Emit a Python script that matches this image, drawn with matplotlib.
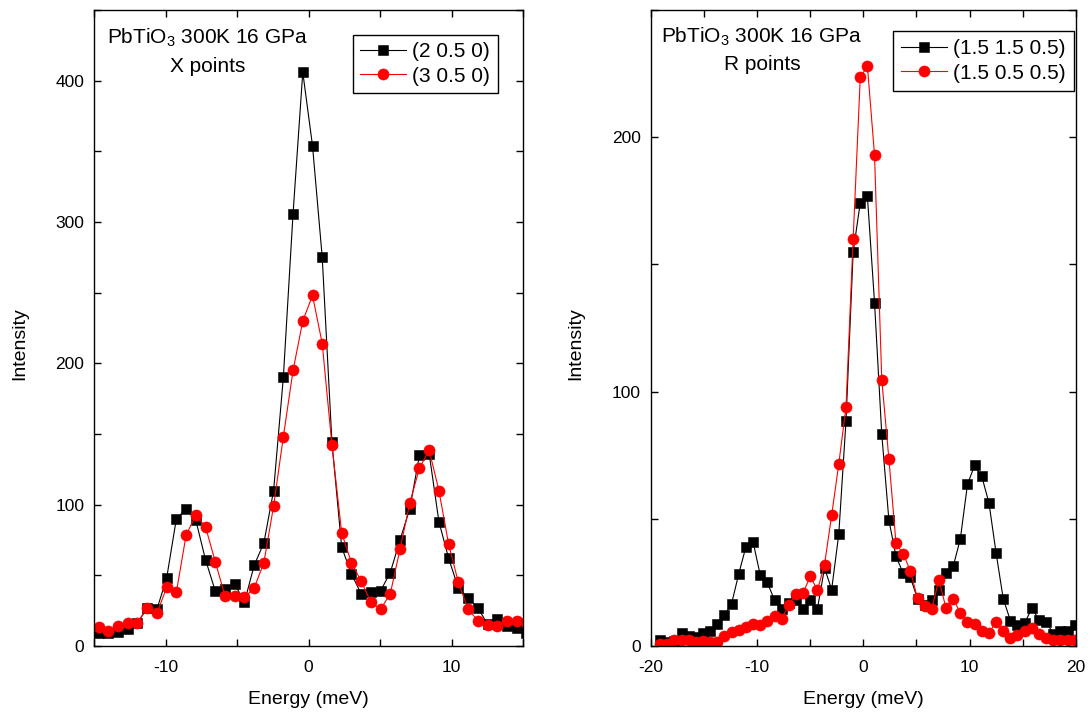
import matplotlib
matplotlib.use("Agg")
import matplotlib.pyplot as plt
from matplotlib.ticker import MultipleLocator

plt.rcParams.update({
    "font.family": ["Liberation Sans", "DejaVu Sans"],
    "mathtext.fontset": "custom",
    "mathtext.rm": "Liberation Sans",
    "mathtext.it": "Liberation Sans:italic",
    "mathtext.bf": "Liberation Sans:bold",
    "mathtext.default": "regular",
    "axes.unicode_minus": False,
})

# ---- X points (left panel) ----
energy_x = [-14.68, -14.00, -13.32, -12.64, -11.96, -11.28, -10.60, -9.92, -9.24,
            -8.56, -7.88, -7.20, -6.52, -5.84, -5.16, -4.48, -3.80, -3.12, -2.44,
            -1.76, -1.08, -0.40, 0.28, 0.96, 1.64, 2.32, 3.00, 3.68, 4.36, 5.04,
            5.72, 6.40, 7.08, 7.76, 8.44, 9.12, 9.80, 10.48, 11.16, 11.84, 12.52,
            13.20, 13.88, 14.56, 15.24]
int_2_05_0 = [9, 9.5, 10, 12, 16.5, 27, 26, 48, 90, 97,
              89, 61, 39, 40, 44, 31, 57, 73, 110, 190,
              306, 406, 354, 275, 144, 70, 51, 37, 38, 39,
              52, 75, 97, 135, 136, 88, 62, 41, 34, 27,
              15.5, 19, 14, 12.5, 9]
int_3_05_0 = [13.6, 10.8, 14.4, 16, 16.5, 26.6, 23, 41.5, 38, 78.4,
              92.6, 84.3, 59.6, 35.5, 35.5, 34.4, 41, 59, 99, 148,
              195, 230, 248, 214, 142, 80, 59, 46, 31, 26,
              37, 68.5, 101, 126, 138.5, 110, 72, 45, 26, 18,
              15, 14, 17.7, 17.7, 17]

# ---- R points (right panel) ----
energy_r = [-19.10, -18.42, -17.75, -17.08, -16.41, -15.74, -15.06, -14.39, -13.72,
            -13.05, -12.38, -11.70, -11.03, -10.36, -9.69, -9.02, -8.34, -7.67,
            -7.00, -6.33, -5.66, -4.98, -4.31, -3.64, -2.97, -2.30, -1.62, -0.95,
            -0.28, 0.39, 1.06, 1.74, 2.41, 3.08, 3.75, 4.42, 5.10, 5.77, 6.44,
            7.11, 7.78, 8.46, 9.13, 9.80, 10.47, 11.14, 11.82, 12.49, 13.16,
            13.83, 14.50, 15.18, 15.85, 16.52, 17.19, 17.86, 18.54, 19.21, 19.88]
int_15_15_05 = [2.4, 1.5, 2.0, 5.0, 4.1, 3.5, 5.0, 6.0, 8.5, 12.0,
                16.6, 28.4, 39.0, 41.0, 28.0, 25.0, 18.0, 14.6, 16.8, 18.0,
                14.6, 18.0, 14.6, 30.6, 22.2, 44.0, 88.6, 154.8, 174.3, 176.8,
                135.0, 83.3, 49.5, 35.2, 28.7, 27.1, 18.6, 16.0, 17.9, 21.9,
                28.7, 31.3, 42.2, 63.6, 71.0, 66.7, 56.2, 36.5, 18.6, 10.0,
                8.1, 9.0, 14.9, 10.3, 9.6, 4.9, 5.7, 5.8, 8.1]
int_15_05_05 = [0.9, 0.9, 2.2, 2.4, 2.2, 1.5, 1.9, 1.5, 1.5, 4.1,
                5.4, 6.1, 7.4, 8.5, 8.1, 10.0, 11.6, 10.7, 16.0, 20.6,
                20.8, 27.4, 21.9, 32.0, 51.4, 71.6, 94.0, 160.0, 223.5, 228.0,
                193.0, 104.7, 73.6, 40.3, 36.3, 29.6, 18.8, 15.7, 14.6, 26.0,
                14.9, 18.6, 12.9, 9.4, 8.7, 5.8, 5.2, 9.4, 5.8, 3.2,
                4.5, 5.8, 7.2, 4.8, 3.2, 2.4, 2.2, 2.4, 2.2]

W, H = 1091, 715
fig = plt.figure(figsize=(W / 100, H / 100), dpi=100)


def px_box(x0, x1, top, bottom):
    return [x0 / W, 1 - bottom / H, (x1 - x0) / W, (bottom - top) / H]


ax1 = fig.add_axes(px_box(94, 523, 10, 646))
ax2 = fig.add_axes(px_box(650.5, 1076, 10, 646))


def style_axes(ax, xlim, ylim, x_major, y_major):
    ax.set_xlim(*xlim)
    ax.set_ylim(*ylim)
    ax.xaxis.set_major_locator(MultipleLocator(x_major))
    ax.xaxis.set_minor_locator(MultipleLocator(x_major / 2))
    ax.yaxis.set_major_locator(MultipleLocator(y_major))
    ax.yaxis.set_minor_locator(MultipleLocator(y_major / 2))
    ax.tick_params(which="both", direction="in", top=True, right=True,
                   length=5, width=1.0, labelsize=12.5)
    ax.tick_params(axis="x", which="both", pad=10)
    ax.tick_params(axis="y", which="both", pad=7)
    for sp in ax.spines.values():
        sp.set_linewidth(1.0)
    ax.set_xlabel("Energy (meV)", fontsize=14)
    ax.xaxis.label.set_va("baseline")
    ax.xaxis.set_label_coords(0.5, (646 - 704) / 636)
    ax.set_ylabel("Intensity", fontsize=14)
    ax.yaxis.label.set_va("baseline")
    width_px = ax.get_position().width * W
    ax.yaxis.set_label_coords(-69.8 / width_px, (646 - 344) / 636)


def plot_pair(ax, e, black, red, lab_black, lab_red):
    ax.plot(e, black, color="black", lw=0.8, marker="s", ms=7.0,
            mfc="black", mec="black", mew=0.4, label=lab_black)
    ax.plot(e, red, color="red", lw=0.8, marker="o", ms=8.0,
            mfc="red", mec="red", mew=0.4, label=lab_red)


plot_pair(ax1, energy_x, int_2_05_0, int_3_05_0, "(2 0.5 0)", "(3 0.5 0)")
plot_pair(ax2, energy_r, int_15_15_05, int_15_05_05, "(1.5 1.5 0.5)", "(1.5 0.5 0.5)")

style_axes(ax1, (-15, 15), (0, 450), 10, 100)
style_axes(ax2, (-20, 20), (0, 250), 10, 100)


def add_legend(ax, left_px, top_px, right_pad):
    leg = ax.legend(loc="upper left", bbox_to_anchor=(left_px / W, 1 - top_px / H),
                    bbox_transform=fig.transFigure, borderaxespad=0,
                    frameon=True, fancybox=False, edgecolor="black", framealpha=1,
                    fontsize=15, handlelength=2.2, handletextpad=0.3,
                    borderpad=right_pad, labelspacing=0.25)
    leg.get_frame().set_linewidth(1.0)


add_legend(ax1, 353, 35, 0.35)
add_legend(ax2, 893, 31, 0.4)

# panel annotations
fig.text(207.5 / W, 1 - 44 / H, "PbTiO$_3$ 300K 16 GPa", fontsize=15,
         ha="center", va="baseline")
fig.text(207.5 / W, 1 - 71.5 / H, "X points", fontsize=15, ha="center", va="baseline")
fig.text(762 / W, 1 - 43 / H, "PbTiO$_3$ 300K 16 GPa", fontsize=15,
         ha="center", va="baseline")
fig.text(762 / W, 1 - 70.5 / H, "R points", fontsize=15, ha="center", va="baseline")

fig.savefig("out.png", dpi=100)
